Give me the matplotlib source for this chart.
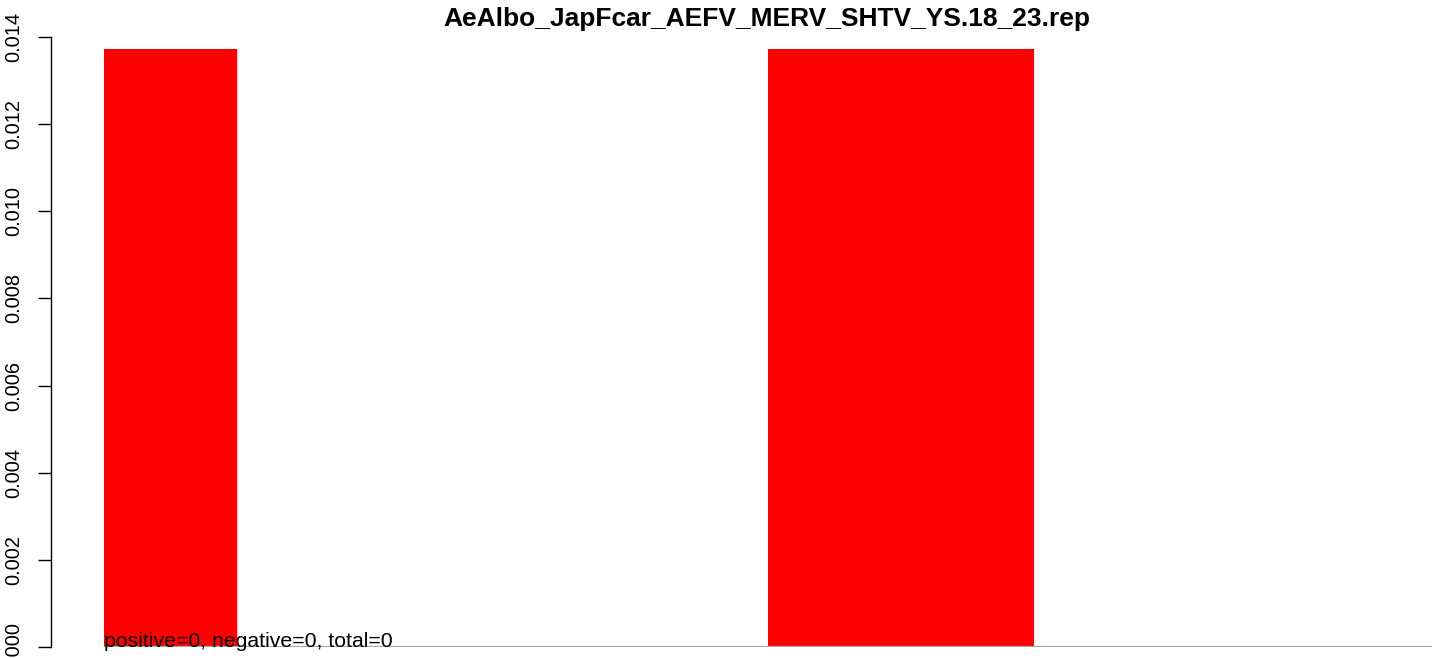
import matplotlib
matplotlib.use("Agg")
import matplotlib.pyplot as plt
import numpy as np

title = "AeAlbo_JapFcar_AEFV_MERV_SHTV_YS.18_23.rep"
bins = list(range(10))
values = [0.013725, 0, 0, 0, 0, 0.013725, 0.013725, 0, 0, 0]
yticks = [0.000, 0.002, 0.004, 0.006, 0.008, 0.010, 0.012, 0.014]
note = "positive=0, negative=0, total=0"

plt.rcParams['font.family'] = ['Liberation Sans', 'DejaVu Sans']

W, H = 1444, 658
fig = plt.figure(figsize=(W / 100, H / 100), dpi=100)
left_px, right_px, top_px, bot_px = 51, 1444, 37, 647
ax = fig.add_axes([left_px / W, (H - bot_px) / H, (right_px - left_px) / W, (bot_px - top_px) / H])

ax.bar(bins, values, width=1.0, align='edge', color='#ff0000', edgecolor='none', linewidth=0)
ax.hlines(0, 0, len(bins), colors='#a6a6a6', linewidth=1.6, zorder=3)

px = len(bins) / (1432 - 104)
ax.set_xlim(-(104 - left_px) * px, len(bins) + (right_px - 1432) * px)
ax.set_ylim(0, 0.014)

for s in ['top', 'right', 'bottom']:
    ax.spines[s].set_visible(False)
ax.spines['left'].set_bounds(0, 0.014)
ax.spines['left'].set_linewidth(1.0)
ax.set_xticks([])
ax.set_yticks(yticks)
ax.set_yticklabels([f"{v:.3f}" for v in yticks], rotation=90, va='center')
ax.tick_params(axis='y', length=9.5, width=1.0, pad=10.5, labelsize=14.4)

ax.text(0, 0, note, fontsize=15.3, ha='left', va='baseline', color='black', zorder=4)

fig.text(767 / W, (H - 26) / H, title, fontsize=19, fontweight='bold', ha='center', va='baseline')

fig.savefig("out.png", dpi=100)
